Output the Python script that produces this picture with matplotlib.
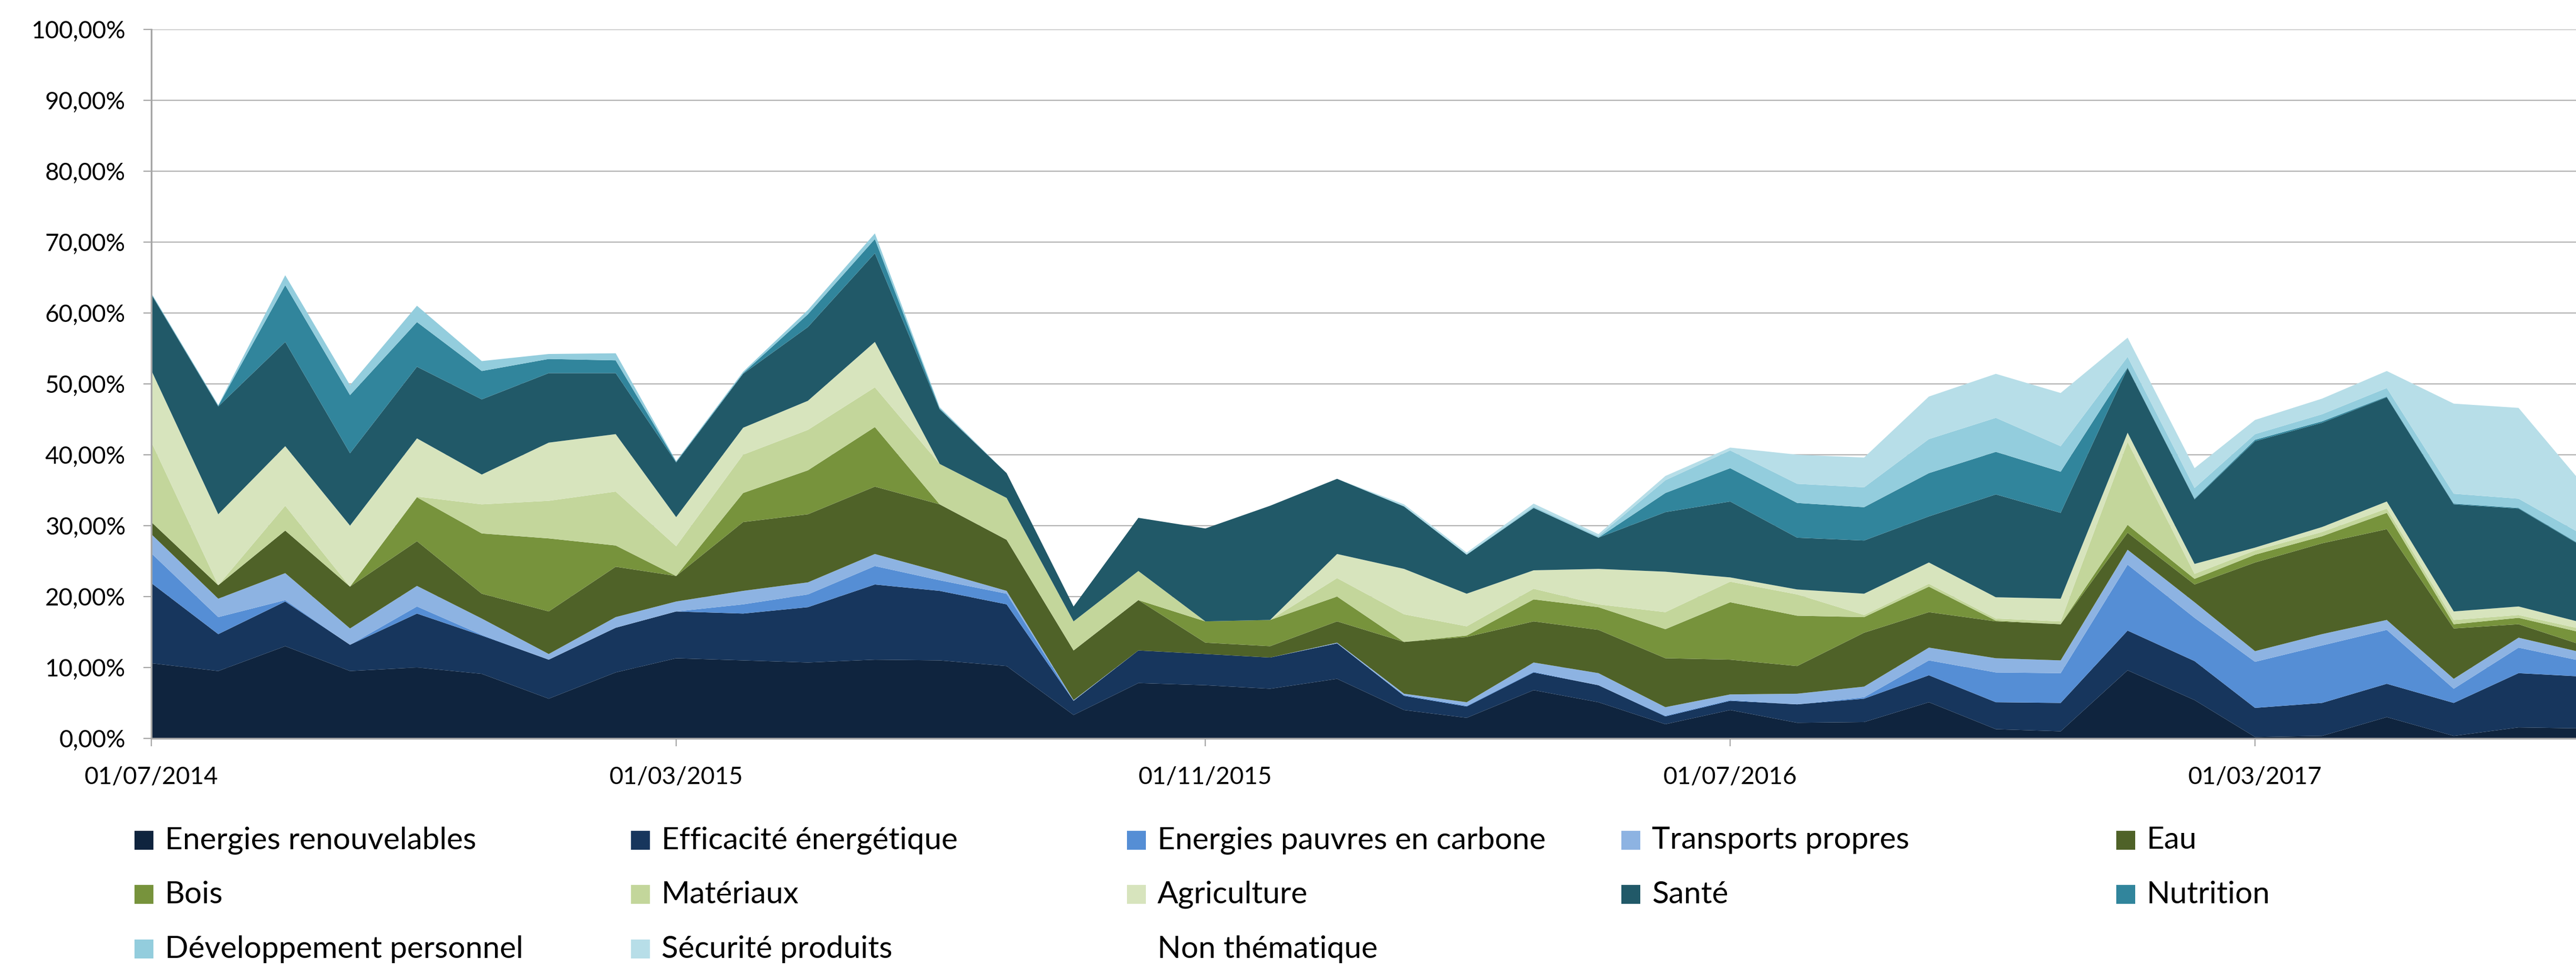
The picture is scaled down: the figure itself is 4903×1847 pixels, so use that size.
import matplotlib
matplotlib.use('Agg')
import matplotlib.pyplot as plt
import matplotlib.dates as mdates
from matplotlib.patches import Rectangle
from matplotlib.ticker import FuncFormatter, MultipleLocator
import numpy as np
import pandas as pd

plt.rcParams['font.family'] = ['Lato', 'DejaVu Sans']

#%% donnees (en %) ---------------------------------------------------------------
dates = pd.date_range('2014-07-01', periods=38, freq='MS')

energies_renouvelables = [10.6, 9.5, 13.0, 9.5, 10.0, 9.1, 5.6, 9.3, 11.3, 11.0, 10.7, 11.1, 11.0,
                          10.2, 3.3, 7.8, 7.5, 7.0, 8.4, 4.0, 2.9, 6.8, 5.1, 2.0, 4.0, 2.2, 2.3,
                          5.1, 1.3, 1.0, 9.6, 5.4, 0.2, 0.35, 3.0, 0.35, 1.55, 1.4]
efficacite_energetique = [11.3, 5.2, 6.3, 3.7, 7.6, 5.4, 5.5, 6.3, 6.6, 6.6, 7.8, 10.6, 9.8,
                          8.7, 2.0, 4.6, 4.4, 4.4, 5.0, 2.0, 1.6, 2.5, 2.4, 1.1, 1.3, 2.6, 3.3,
                          3.8, 3.8, 4.0, 5.6, 5.5, 4.1, 4.65, 4.7, 4.65, 7.65, 7.3]
energies_pauvres_carbone = [4.2, 2.4, 0.2, 0.0, 1.0, 0.1, 0.0, 0.0, 0.0, 1.3, 1.8, 2.6, 1.5,
                            1.5, 0.0, 0.0, 0.0, 0.0, 0.0, 0.1, 0.1, 0.1, 0.0, 0.1, 0.1, 0.0, 0.2,
                            2.1, 4.2, 4.2, 9.3, 6.1, 6.5, 8.1, 7.6, 2.0, 3.6, 2.1]
transports_propres = [2.7, 2.6, 3.8, 2.3, 2.9, 2.3, 0.8, 1.5, 1.4, 1.9, 1.7, 1.7, 1.2,
                      0.4, 0.1, 0.0, 0.0, 0.0, 0.1, 0.2, 0.5, 1.3, 1.7, 1.2, 0.8, 1.5, 1.5,
                      1.8, 2.0, 1.8, 2.1, 2.2, 1.5, 1.6, 1.4, 1.4, 1.4, 1.2]
eau = [1.7, 1.9, 6.0, 5.9, 6.3, 3.5, 6.0, 7.1, 3.6, 9.7, 9.6, 9.5, 9.5,
       7.2, 7.0, 7.1, 1.6, 1.6, 3.0, 7.3, 9.2, 5.8, 6.1, 6.9, 4.9, 3.9, 7.6,
       5.0, 5.2, 5.1, 2.4, 2.5, 12.5, 12.8, 12.8, 7.1, 1.9, 1.0]
bois = [0.0, 0.0, 0.0, 0.0, 6.2, 8.5, 10.3, 3.0, 0.0, 4.1, 6.2, 8.4, 0.0,
        0.0, 0.0, 0.0, 3.0, 3.7, 3.5, 0.0, 0.2, 3.1, 3.2, 4.1, 8.1, 7.1, 2.2,
        3.6, 0.1, 0.0, 1.1, 0.8, 1.1, 1.0, 2.3, 0.6, 0.9, 1.8]
materiaux = [11.3, 0.0, 3.5, 0.0, 0.1, 4.1, 5.3, 7.6, 4.2, 5.4, 5.7, 5.6, 5.7,
             5.9, 4.1, 4.1, 0.0, 0.0, 2.6, 3.9, 1.3, 1.5, 0.4, 2.4, 2.9, 3.0, 0.3,
             0.4, 0.3, 0.4, 11.7, 0.7, 0.6, 0.6, 0.6, 0.6, 0.4, 0.5]
agriculture = [10.1, 10.0, 8.4, 8.6, 8.2, 4.2, 8.2, 8.1, 4.1, 3.8, 4.1, 6.4, 0.0,
               0.0, 0.0, 0.0, 0.0, 0.0, 3.4, 6.4, 4.6, 2.6, 5.0, 5.7, 0.6, 0.7, 3.0,
               3.0, 3.0, 3.2, 1.3, 1.4, 0.4, 0.7, 1.0, 1.2, 1.2, 0.9]
sante = [10.7, 15.2, 14.7, 10.2, 10.1, 10.6, 9.8, 8.6, 7.7, 7.6, 10.4, 12.5, 7.7,
         3.5, 2.1, 7.5, 13.1, 16.1, 10.6, 8.8, 5.5, 8.8, 4.4, 8.4, 10.7, 7.3, 7.5,
         6.5, 14.5, 12.1, 9.1, 9.1, 15.0, 14.7, 14.7, 15.1, 13.8, 10.6]
nutrition = [0.1, 0.1, 8.0, 8.2, 6.3, 4.0, 2.0, 1.8, 0.1, 0.1, 1.8, 2.0, 0.1,
             0.0, 0.0, 0.0, 0.0, 0.0, 0.0, 0.0, 0.0, 0.0, 0.0, 2.7, 4.7, 4.9, 4.7,
             6.1, 6.0, 5.8, 0.1, 0.1, 0.2, 0.2, 0.1, 0.1, 0.1, 0.1]
developpement_perso = [0.1, 0.1, 1.4, 1.4, 2.3, 1.4, 0.7, 1.0, 0.1, 0.2, 0.6, 0.8, 0.2,
                       0.0, 0.0, 0.0, 0.0, 0.0, 0.0, 0.1, 0.1, 0.2, 0.2, 1.8, 2.5, 2.7, 2.8,
                       4.8, 4.8, 3.6, 1.5, 1.5, 0.8, 1.0, 1.2, 1.4, 1.3, 1.6]
securite_produits = [0.0, 0.0, 0.0, 0.0, 0.0, 0.0, 0.0, 0.0, 0.0, 0.0, 0.0, 0.0, 0.0,
                     0.0, 0.0, 0.0, 0.0, 0.0, 0.0, 0.2, 0.2, 0.4, 0.3, 0.6, 0.4, 4.1, 4.2,
                     6.0, 6.2, 7.5, 2.7, 2.8, 2.0, 2.2, 2.4, 12.7, 12.8, 6.9]

noms = ['Energies renouvelables', 'Efficacité énergétique', 'Energies pauvres en carbone',
        'Transports propres', 'Eau', 'Bois', 'Matériaux', 'Agriculture', 'Santé',
        'Nutrition', 'Développement personnel', 'Sécurité produits', 'Non thématique']
couleurs = ['#0F243E', '#17365D', '#558ED5', '#8DB3E2', '#4F6228', '#77933C',
            '#C3D69B', '#D7E4BD', '#215968', '#31859C', '#93CDDD', '#B7DEE8', 'none']

series = [energies_renouvelables, efficacite_energetique, energies_pauvres_carbone,
          transports_propres, eau, bois, materiaux, agriculture, sante, nutrition,
          developpement_perso, securite_produits]

#%% figure -------------------------------------------------------------------------
W, H = 4903, 1847
fig = plt.figure(figsize=(W/100, H/100), dpi=100)
rend = fig.canvas.get_renderer()


def taille(texte, largeur_px, base=36):
    # taille de police pour que le texte fasse largeur_px de large
    t = fig.text(0, 0, texte, fontsize=base)
    w = t.get_window_extent(renderer=rend).width
    t.remove()
    return base*largeur_px/w


fs_y = taille('100,00%', 180)
fs_x = taille('01/07/2014', 255)
fs_leg = taille('Energies renouvelables', 593)

ax = fig.add_axes([288/W, 1 - 1406/H, 1 - 288/W, (1406 - 55.5)/H])

x = mdates.date2num(dates.to_pydatetime())
ax.stackplot(x, *[np.array(s) for s in series], colors=couleurs[:12], linewidth=0)

ax.set_xlim(x[0], x[0] + 1122.6)
ax.set_ylim(0, 100)
ax.set_xticks(x[::8])
ax.xaxis.set_major_formatter(mdates.DateFormatter('%d/%m/%Y'))
ax.yaxis.set_major_locator(MultipleLocator(10))
ax.yaxis.set_major_formatter(FuncFormatter(lambda v, _: f'{v:.2f}'.replace('.', ',') + '%'))

ax.set_axisbelow(True)
ax.grid(axis='y', color='#B3B3B3', linewidth=1.6)
for s in ['top', 'right']:
    ax.spines[s].set_visible(False)
for s in ['left', 'bottom']:
    ax.spines[s].set_color('#A6A6A6')
    ax.spines[s].set_linewidth(2.4)
ax.tick_params(axis='both', length=11, width=1.6, color='#A6A6A6')
ax.tick_params(axis='y', labelsize=fs_y, pad=24.5)
ax.tick_params(axis='x', labelsize=fs_x, pad=27)

#%% legende --------------------------------------------------------------------------
col_x = [256, 1201, 2145, 3086, 4028]
row_y = [1600, 1703, 1807]
for i, (nom, c) in enumerate(zip(noms, couleurs)):
    cx = col_x[i % 5]
    cy = row_y[i // 5]
    fig.add_artist(Rectangle((cx/W, 1 - (cy + 18)/H), 36/W, 36/H,
                             transform=fig.transFigure, facecolor=c, edgecolor='none'))
    fig.text((cx + 58)/W, 1 - cy/H, nom, fontsize=fs_leg, va='center', ha='left')

plt.savefig('out.png', dpi=100)
